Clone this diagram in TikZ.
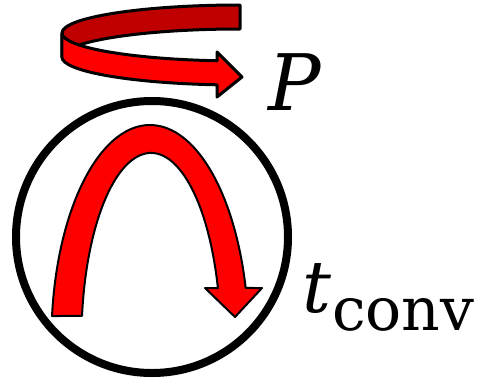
\documentclass[tikz,border=0pt]{standalone}
\usepackage{fontspec}
\newfontfamily\lblfont{DejaVu Serif}
\definecolor{brightred}{RGB}{255,0,0}
\definecolor{darkred}{RGB}{192,0,0}
\begin{document}
\begin{tikzpicture}[x=1pt,y=1pt,
  ribbon/.style={draw=black,line width=3,line join=round},
  archarrow/.style={draw=black,fill=brightred,line width=2,line join=round},
  ring/.style={draw=black,circle,line width=8,minimum size=272,inner sep=0},
  lbl/.style={anchor=base west,inner sep=0,text=black}]
\useasboundingbox (0,0) rectangle (481,-380);
% ring
\node[ring] (ring) at (152,-237) {};
% arch arrow inside the ring
\path[archarrow] (150,-340) ++(173.6:98.6 and 215)
  arc[start angle=173.6,end angle=14,x radius=98.6,y radius=215]
  -- (262,-288) -- (235,-317) -- (205,-288)
  -- (217.9,-288.1)
  arc[start angle=16.1,end angle=172.6,x radius=69.6,y radius=187]
  -- cycle;
% top ribbon: back (dark) part
\path[ribbon,fill=darkred] (240,-33) ++(90:178 and 28)
  arc[start angle=90,end angle=180,x radius=178,y radius=28]
  -- ++(0,-24)
  arc[start angle=180,end angle=90,x radius=178,y radius=28]
  -- cycle;
% top ribbon: front (bright) part with arrow head
\path[ribbon,fill=brightred] (62,-33)
  arc[start angle=180,end angle=262.6,x radius=178,y radius=28]
  -- (217,-52) -- (242,-77) -- (217,-97) -- (217,-84.8)
  arc[start angle=262.6,end angle=180,x radius=178,y radius=28]
  -- cycle;
% labels
\node[lbl,font=\lblfont\itshape\fontsize{78}{78}\selectfont] (P) at (268,-110) {P};
\node[lbl,font=\lblfont\itshape\fontsize{72}{72}\selectfont] (t) at (302,-312) {t};
\node[lbl,font=\lblfont\fontsize{60}{60}\selectfont] (conv) at (332,-330) {conv};
\end{tikzpicture}
\end{document}
